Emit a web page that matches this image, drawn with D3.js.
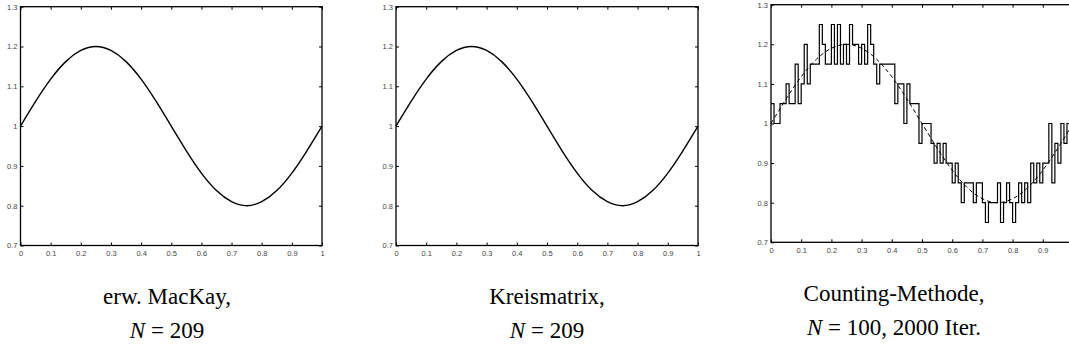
<!DOCTYPE html>
<html>
<head>
<meta charset="utf-8">
<script src="https://cdn.jsdelivr.net/npm/d3@7"></script>
<style>
  html, body { margin: 0; padding: 0; background: #fff; }
  svg { display: block; }
  .tick text { font-family: "Liberation Sans", Arial, sans-serif; font-size: 7.5px; fill: #444; }
  .caption { font-family: "Liberation Serif", "DejaVu Serif", serif; font-size: 23px; fill: #000; }
</style>
</head>
<body>
<svg id="chart" width="1069" height="358"></svg>
<script>
// Tick values shared by all three panels
const xTicks = [0, 0.1, 0.2, 0.3, 0.4, 0.5, 0.6, 0.7, 0.8, 0.9, 1];
const yTicks = [0.7, 0.8, 0.9, 1, 1.1, 1.2, 1.3];

// Reconstructed density (smooth), sampled every 0.05
const smoothX = [0, 0.05, 0.1, 0.15, 0.2, 0.25, 0.3, 0.35, 0.4, 0.45, 0.5,
                 0.55, 0.6, 0.65, 0.7, 0.75, 0.8, 0.85, 0.9, 0.95, 1];
const mackayY = [1.0, 1.062, 1.118, 1.162, 1.19, 1.2, 1.19, 1.162, 1.118, 1.062, 1.0,
                 0.938, 0.882, 0.838, 0.81, 0.8, 0.81, 0.838, 0.882, 0.938, 1.0];
const kreisY  = [1.0, 1.062, 1.118, 1.162, 1.19, 1.2, 1.19, 1.162, 1.118, 1.062, 1.0,
                 0.938, 0.882, 0.838, 0.81, 0.8, 0.81, 0.838, 0.882, 0.938, 1.0];
const exactY  = [1.0, 1.062, 1.118, 1.162, 1.19, 1.2, 1.19, 1.162, 1.118, 1.062, 1.0,
                 0.938, 0.882, 0.838, 0.81, 0.8, 0.81, 0.838, 0.882, 0.938, 1.0];

// Counting method: histogram heights of 100 bins (width 0.01)
const countingY = [
  1.05, 1.00, 1.00, 1.05, 1.05, 1.10, 1.05, 1.05, 1.15, 1.05,
  1.10, 1.20, 1.10, 1.15, 1.15, 1.15, 1.25, 1.20, 1.15, 1.15,
  1.25, 1.15, 1.25, 1.15, 1.20, 1.15, 1.25, 1.20, 1.20, 1.15,
  1.20, 1.15, 1.25, 1.20, 1.15, 1.10, 1.15, 1.15, 1.15, 1.15,
  1.15, 1.05, 1.10, 1.10, 1.00, 1.10, 1.05, 1.05, 1.05, 0.95,
  1.00, 1.00, 1.00, 0.95, 0.90, 0.95, 0.90, 0.95, 0.90, 0.90,
  0.85, 0.90, 0.85, 0.80, 0.85, 0.85, 0.85, 0.80, 0.85, 0.85,
  0.80, 0.75, 0.80, 0.80, 0.80, 0.85, 0.75, 0.80, 0.85, 0.80,
  0.75, 0.80, 0.85, 0.80, 0.85, 0.80, 0.90, 0.85, 0.90, 0.85,
  0.90, 0.90, 1.00, 0.85, 0.95, 0.90, 1.00, 0.95, 1.00, 1.00
];

const captions = [
  ["erw. MacKay,", "N = 209"],
  ["Kreismatrix,", "N = 209"],
  ["Counting-Methode,", "N = 100, 2000 Iter."]
];

const svg = d3.select("#chart");

const panels = [
  { x0: 20.5, x1: 322, y0: 6.7, y1: 245.5, cap: captions[0], cx: 167, cy: 304 },
  { x0: 396, x1: 698, y0: 6.7, y1: 245.5, cap: captions[1], cx: 547, cy: 304 },
  { x0: 771, x1: 1073, y0: 4.7, y1: 242.3, cap: captions[2], cx: 894, cy: 301 }
];

function drawFrame(g, x, y, ticksX) {
  const [ax0, ax1] = x.range();
  const [ay1, ay0] = y.range();
  // Bottom axis with labels, inward ticks
  g.append("g").attr("transform", `translate(0,${ay1})`)
    .call(d3.axisBottom(x).tickValues(ticksX).tickSize(-3).tickPadding(5)
      .tickFormat(d => d3.format("")(d)))
    .call(s => s.select(".domain").remove());
  g.append("g").attr("transform", `translate(${ax0},0)`)
    .call(d3.axisLeft(y).tickValues(yTicks).tickSize(-3).tickPadding(3)
      .tickFormat(d => d3.format("")(d)))
    .call(s => s.select(".domain").remove());
  // Top and right ticks without labels
  g.append("g").attr("transform", `translate(0,${ay0})`)
    .call(d3.axisTop(x).tickValues(ticksX).tickSize(-3).tickFormat(""))
    .call(s => s.select(".domain").remove());
  g.append("g").attr("transform", `translate(${ax1},0)`)
    .call(d3.axisRight(y).tickValues(yTicks).tickSize(-3).tickFormat(""))
    .call(s => s.select(".domain").remove());
  g.selectAll(".tick line").attr("stroke", "#000").attr("stroke-width", 1);
  g.append("rect")
    .attr("x", ax0).attr("y", ay0)
    .attr("width", ax1 - ax0).attr("height", ay1 - ay0)
    .attr("fill", "none").attr("stroke", "#000").attr("stroke-width", 1.3);
}

function drawCaption(p) {
  const t = svg.append("text").attr("class", "caption")
    .attr("text-anchor", "middle").attr("x", p.cx).attr("y", p.cy)
    .text(p.cap[0]);
  const t2 = svg.append("text").attr("class", "caption")
    .attr("text-anchor", "middle").attr("x", p.cx).attr("y", p.cy + 34);
  const parts = p.cap[1].split(/^N/);
  t2.append("tspan").attr("font-style", "italic").text("N");
  t2.append("tspan").text(parts[1]);
}

const smoothSets = [mackayY, kreisY];

panels.forEach((p, i) => {
  const x = d3.scaleLinear().domain([0, 1]).range([p.x0, p.x1]);
  const y = d3.scaleLinear().domain([0.7, 1.3]).range([p.y1, p.y0]);
  const g = svg.append("g");

  if (i < 2) {
    const line = d3.line().x((d, k) => x(smoothX[k])).y(d => y(d)).curve(d3.curveNatural);
    g.append("path").datum(smoothSets[i])
      .attr("d", line).attr("fill", "none")
      .attr("stroke", "#000").attr("stroke-width", 1.4);
    drawFrame(g, x, y, xTicks);
  } else {
    const stepData = countingY.map((v, k) => [k / 100, v]);
    stepData.push([1, countingY[countingY.length - 1]]);
    const step = d3.line().x(d => x(d[0])).y(d => y(d[1])).curve(d3.curveStepAfter);
    const dashed = d3.line().x((d, k) => x(smoothX[k])).y(d => y(d)).curve(d3.curveNatural);
    g.append("path").datum(exactY)
      .attr("d", dashed).attr("fill", "none")
      .attr("stroke", "#000").attr("stroke-width", 1)
      .attr("stroke-dasharray", "4,3");
    g.append("path").datum(stepData)
      .attr("d", step).attr("fill", "none")
      .attr("stroke", "#000").attr("stroke-width", 1.2);
    drawFrame(g, x, y, xTicks.slice(0, 10));
  }
  drawCaption(p);
});
</script>
</body>
</html>
